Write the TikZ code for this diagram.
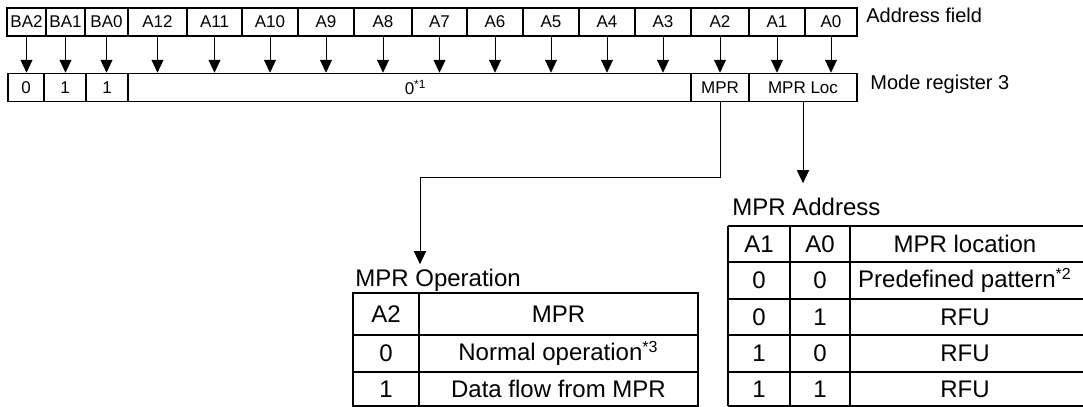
\documentclass[tikz,border=0pt]{standalone}
\usepackage{fontspec}
\setmainfont{Liberation Sans}
\usetikzlibrary{arrows.meta}

\tikzset{
  cell/.style={draw, line width=0.75pt, inner sep=0pt, minimum height=14pt,
    font=\fontsize{8.5}{10}\selectfont},
  arr/.style={line width=0.5pt, -{Triangle[width=6pt,length=6.5pt]}},
  tbl/.style={inner sep=0pt, font=\fontsize{12}{14}\selectfont},
  lbl/.style={inner sep=0pt, anchor=base west, font=\fontsize{10}{12}\selectfont}
}

\begin{document}
\begin{tikzpicture}[x=0.5pt,y=-0.5pt]
  \useasboundingbox (0,0) rectangle (1083,407);
  \clip (0,0) rectangle (1083,407);
  % address field
  \foreach \n/\t/\l/\r in {ba2/BA2/7/46, ba1/BA1/46/85, ba0/BA0/85/128,
      a12/A12/128/187, a11/A11/187/242, a10/A10/242/298, a9/A9/298/354,
      a8/A8/354/412, a7/A7/412/467, a6/A6/467/523, a5/A5/523/579,
      a4/A4/579/635, a3/A3/635/691, a2/A2/691/749, a1/A1/749/805, a0/A0/805/857}
    \node[cell, minimum width={(\r-\l)*0.5pt}] (\n) at ({(\l+\r)/2},22) {\t};
  % mode register 3
  \foreach \n/\t/\l/\r in {r0/0/8/44, r1/1/44/86, r2/1/86/128,
      rz/{0\rlap{\textsuperscript{*1}}}/128/691, mpr/MPR/691/749, loc/MPR Loc/749/857}
    \node[cell, minimum width={(\r-\l)*0.5pt}] (\n) at ({(\l+\r)/2},87.5) {\t};
  \foreach \n in {ba2,ba1,ba0,a12,a11,a10,a9,a8,a7,a6,a5,a4,a3,a2,a1,a0}
    \draw[arr] (\n.south) -- (\n.south |- mpr.north);
  \node[lbl] (addr) at (866,23) {Address field};
  \node[lbl] (mode) at (870,90) {Mode register 3};

  % MPR Operation
  \node[tbl, anchor=base west] (optitle) at (355,286) {MPR Operation};
  \draw[line width=0.6pt] (353,293) rectangle (698,406)
    (419,293) -- (419,406) (353,335) -- (698,335) (353,372) -- (698,372);
  \foreach \y/\a/\b in {314/A2/MPR, 353.5/0/Normal operation\textsuperscript{*3},
      389/1/Data flow from MPR} {
    \node[tbl] at (386,\y) {\a};
    \node[tbl] at (558.5,\y) {\b};
  }

  % MPR Address
  \node[tbl, anchor=base west] (adtitle) at (732,215) {MPR Address};
  \foreach \y in {226,262,299,335,372,406}
    \draw[line width=0.6pt] (728,\y) -- (1090,\y);
  \foreach \x in {728,790,850}
    \draw[line width=0.6pt] (\x,226) -- (\x,406);
  \foreach \y/\a/\b/\c in {244/A1/A0/MPR location,
      280.5/0/0/Predefined pattern\textsuperscript{*2},
      317/0/1/RFU, 353.5/1/0/RFU, 389/1/1/RFU} {
    \node[tbl] at (759,\y) {\a};
    \node[tbl] at (820,\y) {\b};
    \node[tbl] at (965,\y) {\c};
  }

  % connectors
  \coordinate (bend) at (420,177);
  \draw[arr, shorten >=2pt] (mpr.south) |- (bend) -- (bend |- optitle.north);
  \draw[arr, shorten >=7pt] (loc.south) -- (loc.south |- adtitle.north);
\end{tikzpicture}
\end{document}
